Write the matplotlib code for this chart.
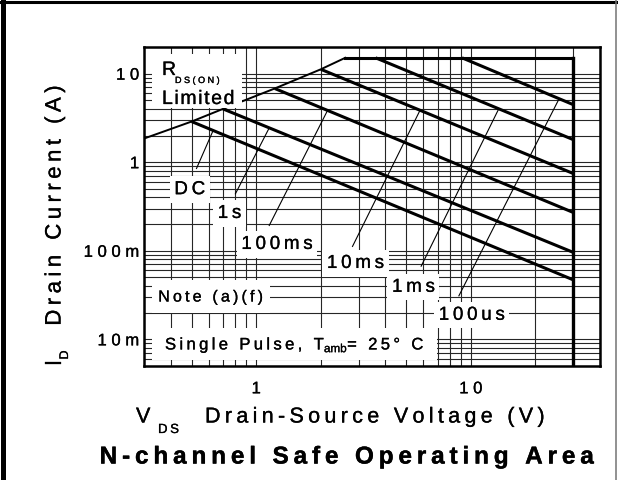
import numpy as np
import matplotlib.pyplot as plt
import matplotlib.patheffects as pe
from matplotlib.lines import Line2D
from matplotlib.patches import Rectangle
from matplotlib.ticker import LogLocator, NullFormatter

plt.rcParams['font.family'] = ['Liberation Sans', 'DejaVu Sans']

# limite R_DS(on) (V, A)
rds_v = [0.3, 0.5, 0.7, 1.22, 2.0, 2.6]
rds_i = [1.85, 2.88, 4.0, 6.8, 11.2, 15.1]
i_max = 15.1
v_max = 30

# curvas de pulso: inicio sobre la recta R_DS(on), final en 30 V
pulse_names = ['DC', '1s', '100ms', '10ms', '1ms', '100us']
pulse_v0 = [0.5, 0.7, 1.22, 2.0, 3.6, 9.1]
pulse_i0 = [2.88, 4.0, 6.8, 11.2, 15.1, 15.1]
pulse_i30 = [0.047, 0.096, 0.271, 0.746, 1.8, 4.47]

# etiquetas y lineas guia
label_v = [0.49, 0.75, 1.25, 2.9, 5.4, 10.1]
label_i = [0.49, 0.264, 0.118, 0.072, 0.0387, 0.0187]
leader_v0 = [0.527, 0.80, 1.15, 2.81, 5.87, 8.8]
leader_i0 = [0.85, 0.44, 0.193, 0.112, 0.067, 0.031]
leader_v1 = [0.63, 1.15, 2.15, 5.8, 13.5, 25.8]

x_ticks = [1, 10]
x_ticklabels = ['1', '10']
y_ticks = [0.01, 0.1, 1, 10]
y_ticklabels = ['10m', '100m', '1', '10']

W, H = 618, 480
AX_L, AX_R, AX_T, AX_B = 144, 600, 47, 366


def fx(x):
    return x / W


def fy(y):
    return 1 - y / H


def axx(x):
    return (x - AX_L) / (AX_R - AX_L)


def axy(y):
    return (AX_B - y) / (AX_B - AX_T)


def sp(s, gap='\u2009'):
    # espaciado entre letras como en la hoja de datos
    return gap.join(s)


heavy = [pe.withStroke(linewidth=0.2, foreground='k')]

fig = plt.figure(figsize=(W / 100, H / 100), dpi=100)
ax = fig.add_axes([fx(AX_L), fy(AX_B), (AX_R - AX_L) / W, (AX_B - AX_T) / H])
ax.set_xscale('log')
ax.set_yscale('log')
ax.set_xlim(0.3, 40)
ax.set_ylim(0.005, 20)

# rejilla
ax.xaxis.set_minor_locator(LogLocator(subs=np.arange(2, 10)))
ax.yaxis.set_minor_locator(LogLocator(subs=np.arange(2, 10)))
ax.xaxis.set_minor_formatter(NullFormatter())
ax.yaxis.set_minor_formatter(NullFormatter())
ax.grid(which='both', color='0.15', lw=0.8)
ax.set_axisbelow(True)

ax.set_xticks(x_ticks)
ax.set_xticklabels([sp(t, ' ') for t in x_ticklabels])
ax.set_yticks(y_ticks)
ax.set_yticklabels([sp(t, ' ') for t in y_ticklabels])
ax.tick_params(which='both', length=0)
ax.tick_params(axis='x', pad=11, labelsize=12)
ax.tick_params(axis='y', pad=3.5, labelsize=12)
for lbl in ax.get_xticklabels() + ax.get_yticklabels():
    lbl.set_path_effects(heavy)
for s in ax.spines.values():
    s.set_linewidth(1.8)

# limites
ax.plot(rds_v, rds_i, color='k', lw=1.4, zorder=2)
ax.plot([rds_v[-1], v_max], [i_max, i_max], color='k', lw=2.2, zorder=2)
ax.plot([v_max, v_max], [i_max, 0.005], color='k', lw=2.4, zorder=2)

for v0, i0, i1 in zip(pulse_v0, pulse_i0, pulse_i30):
    ax.plot([v0, v_max], [i0, i1], color='k', lw=2.2, zorder=2, solid_capstyle='butt')

# lineas guia hasta cada curva
for k in range(len(pulse_names)):
    lv = np.log10([pulse_v0[k], v_max])
    li = np.log10([pulse_i0[k], pulse_i30[k]])
    i_end = 10 ** np.interp(np.log10(leader_v1[k]), lv, li)
    ax.plot([leader_v0[k], leader_v1[k]], [leader_i0[k], i_end], color='k', lw=0.8, zorder=2)

box = dict(boxstyle='square,pad=0.25', fc='white', ec='none')
for name, v, i in zip(pulse_names, label_v, label_i):
    ax.text(v, i, sp(name), fontsize=13.5, ha='center', va='center', bbox=box,
            zorder=3, path_effects=heavy)

# fondos blancos de las notas
for (x0, y0, x1, y1) in [(152, 54, 242, 108), (152, 280, 270, 313), (152, 328, 437, 360)]:
    ax.add_patch(Rectangle((axx(x0), axy(y1)), axx(x1) - axx(x0), axy(y0) - axy(y1),
                           transform=ax.transAxes, fc='white', ec='none', zorder=3))

ax.text(axx(162), axy(75), 'R', fontsize=14, ha='left', va='baseline',
        transform=ax.transAxes, zorder=4, path_effects=heavy)
ax.text(axx(175), axy(76), sp('DS(ON)', ' '), fontsize=6.5, ha='left', va='top',
        transform=ax.transAxes, zorder=4, path_effects=heavy)
ax.text(axx(162), axy(104), sp('Limited', '\u200a'), fontsize=14, ha='left', va='baseline',
        transform=ax.transAxes, zorder=4, path_effects=heavy)
ax.text(axx(211), axy(297), sp('Note (a)(f)'), fontsize=11.5, ha='center', va='center',
        transform=ax.transAxes, zorder=4, path_effects=heavy)
ax.text(axx(165), axy(345), sp('Single Pulse, T') + '$_{\\mathregular{amb}}$' + sp('= 25° C'),
        fontsize=12, ha='left', va='center', transform=ax.transAxes, zorder=4,
        path_effects=heavy)

# etiquetas de ejes
fig.text(fx(136), fy(417), 'V', fontsize=15.5, ha='left', va='center', path_effects=heavy)
fig.text(fx(158), fy(430), sp('DS'), fontsize=9.5, ha='left', va='center', path_effects=heavy)
fig.text(fx(205), fy(417), sp('Drain-Source Voltage (V)'), fontsize=15.5, ha='left',
         va='center', path_effects=heavy)

fig.text(fx(55), fy(363), 'I', fontsize=16, rotation=90, ha='center', va='center',
         path_effects=heavy)
fig.text(fx(65), fy(355), 'D', fontsize=9, rotation=90, ha='center', va='center',
         path_effects=heavy)
fig.text(fx(55), fy(205), sp('Drain Current (A)'), fontsize=16, rotation=90,
         ha='center', va='center', path_effects=heavy)

fig.text(fx(347), fy(457), sp('N-channel Safe Operating Area'), fontsize=17.5,
         fontweight='bold', ha='center', va='center',
         path_effects=[pe.withStroke(linewidth=0.3, foreground='k')])

# marco de la figura
fig.add_artist(Line2D([0, 1], [fy(1.5), fy(1.5)], color='k', lw=2.2))
fig.add_artist(Line2D([fx(2.5), fx(2.5)], [0, 1], color='k', lw=3.6))
fig.add_artist(Line2D([fx(616), fx(616)], [0, 1], color='0.45', lw=1.1))

fig.savefig('out.png', dpi=100)
